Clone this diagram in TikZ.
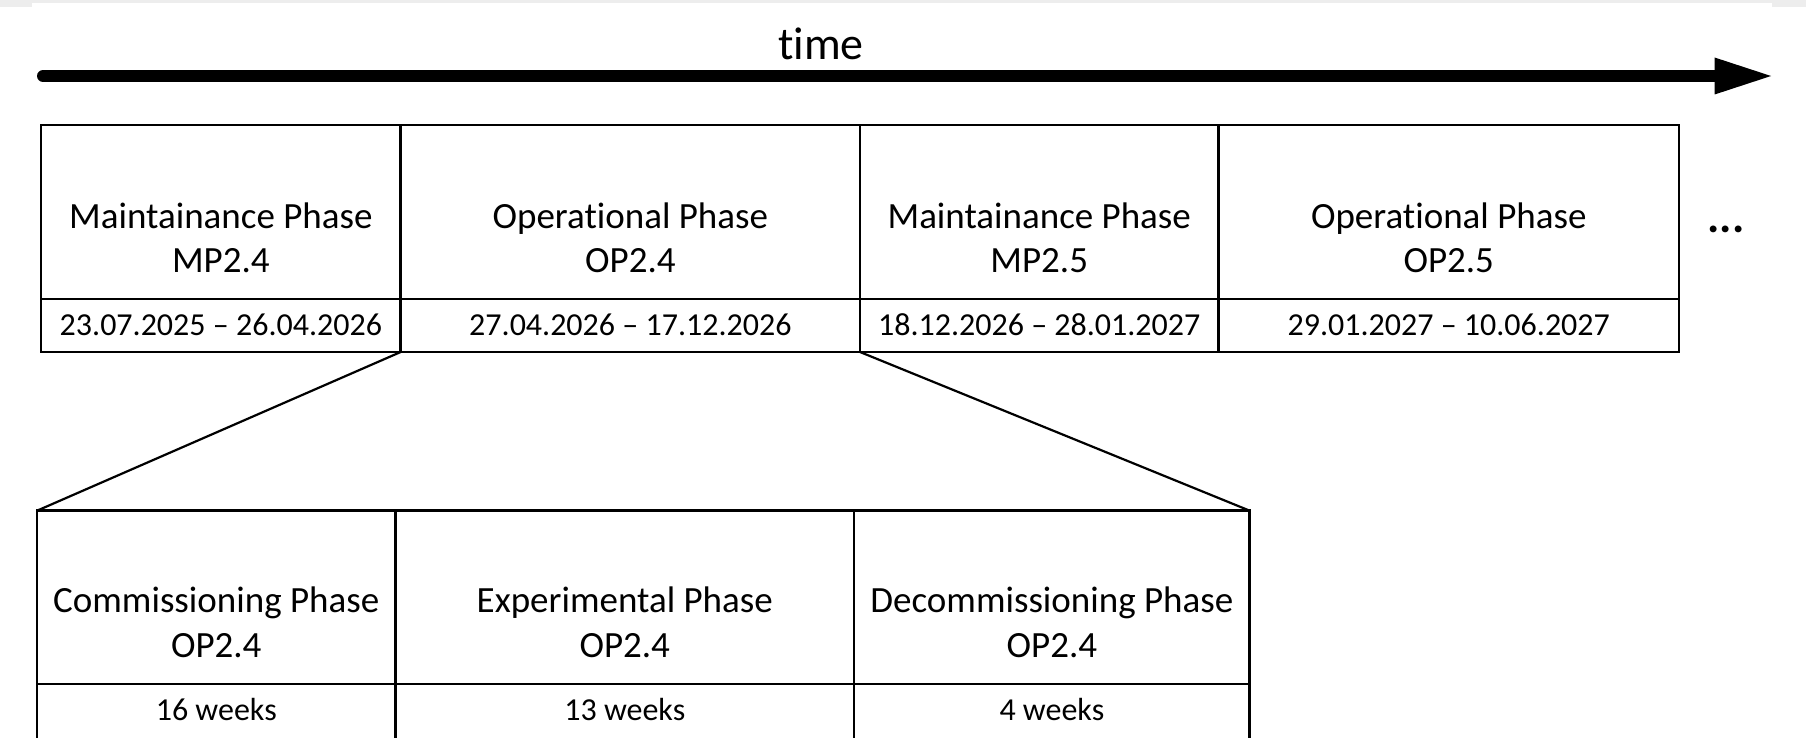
\documentclass[tikz,border=0pt]{standalone}
\usepackage{fontspec}
\setmainfont{Carlito}[RawFeature={-liga;-clig;-dlig;-calt}]
\begin{document}
\begin{tikzpicture}[x=1pt,y=-1pt,
  cell/.style={draw=black, line width=2.6pt, inner sep=0pt, outer sep=0pt},
  hdr/.style={anchor=base, inner sep=0pt, font=\fontsize{37}{44}\selectfont},
  small/.style={anchor=base, inner sep=0pt, font=\fontsize{32}{38}\selectfont},
  funnel/.style={line width=2.2pt}]
\clip (0,0) rectangle (1806,738);
\fill[white] (0,0) rectangle (1806,738);
\fill[black!7] (0,0) rectangle (1806,3);
\fill[black!7] (0,0) rectangle (32,7);
\fill[black!7] (1772,0) rectangle (1806,7);
% time arrow
\node[anchor=base, inner sep=0pt, font=\fontsize{46}{54}\selectfont] (time) at (821,60) {t\kern0pt ime};
\coordinate (tS) at (43,76);
\coordinate (tE) at (1720,76);
\draw[line width=12pt, line cap=round] (tS) -- (tE);
\fill (1714.6,57.5) -- (1771,76) -- (1714.6,94.5) -- cycle;
% top table
\node[cell, minimum width=359.7pt, minimum height=174pt] (h1) at (220.85,212) {};
\node[cell, minimum width=459.3pt, minimum height=174pt] (h2) at (630.35,212) {};
\node[cell, minimum width=358.5pt, minimum height=174pt] (h3) at (1039.25,212) {};
\node[cell, minimum width=460.5pt, minimum height=174pt] (h4) at (1448.75,212) {};
\node[cell, minimum width=359.7pt, minimum height=53pt] (d1) at (220.85,325.5) {};
\node[cell, minimum width=459.3pt, minimum height=53pt] (d2) at (630.35,325.5) {};
\node[cell, minimum width=358.5pt, minimum height=53pt] (d3) at (1039.25,325.5) {};
\node[cell, minimum width=460.5pt, minimum height=53pt] (d4) at (1448.75,325.5) {};
\node[hdr] (h1a) at (220.85,228) {Maintainance Phase};
\node[hdr] (h1b) at (220.85,272) {MP2.4};
\node[hdr] (h2a) at (630.35,228) {Operat\kern0pt ional Phase};
\node[hdr] (h2b) at (630.35,272) {OP2.4};
\node[hdr] (h3a) at (1039.25,228) {Maintainance Phase};
\node[hdr] (h3b) at (1039.25,272) {MP2.5};
\node[hdr] (h4a) at (1448.75,228) {Operat\kern0pt ional Phase};
\node[hdr] (h4b) at (1448.75,272) {OP2.5};
\node[small] (d1t) at (220.85,335) {23.07.2025 – 26.04.2026};
\node[small] (d2t) at (630.35,335) {27.04.2026 – 17.12.2026};
\node[small] (d3t) at (1039.25,335) {18.12.2026 – 28.01.2027};
\node[small] (d4t) at (1448.75,335) {29.01.2027 – 10.06.2027};
\node[anchor=base, inner sep=0pt, font=\fontsize{46}{54}\selectfont\bfseries] (dots) at (1726,232) {...};
% bottom table
\node[cell, minimum width=358.5pt, minimum height=173.3pt] (c1) at (216.25,597.35) {};
\node[cell, minimum width=458.5pt, minimum height=173.3pt] (c2) at (624.75,597.35) {};
\node[cell, minimum width=395.7pt, minimum height=173.3pt] (c3) at (1051.85,597.35) {};
\node[cell, minimum width=358.5pt, minimum height=60pt] (w1) at (216.25,714) {};
\node[cell, minimum width=458.5pt, minimum height=60pt] (w2) at (624.75,714) {};
\node[cell, minimum width=395.7pt, minimum height=60pt] (w3) at (1051.85,714) {};
\node[hdr] (c1a) at (216.25,612.5) {Commissioning Phase};
\node[hdr] (c1b) at (216.25,657) {OP2.4};
\node[hdr] (c2a) at (624.75,612.5) {Experimental Phase};
\node[hdr] (c2b) at (624.75,657) {OP2.4};
\node[hdr] (c3a) at (1051.85,612.5) {Decommissioning Phase};
\node[hdr] (c3b) at (1051.85,657) {OP2.4};
\node[small] (w1t) at (216.25,720) {16 weeks};
\node[small] (w2t) at (624.75,720) {13 weeks};
\node[small] (w3t) at (1051.85,720) {4 weeks};
% funnel
\draw[funnel] (d1.south east) -- (c1.north west);
\draw[funnel] (d2.south east) -- (c3.north east);
\end{tikzpicture}
\end{document}
